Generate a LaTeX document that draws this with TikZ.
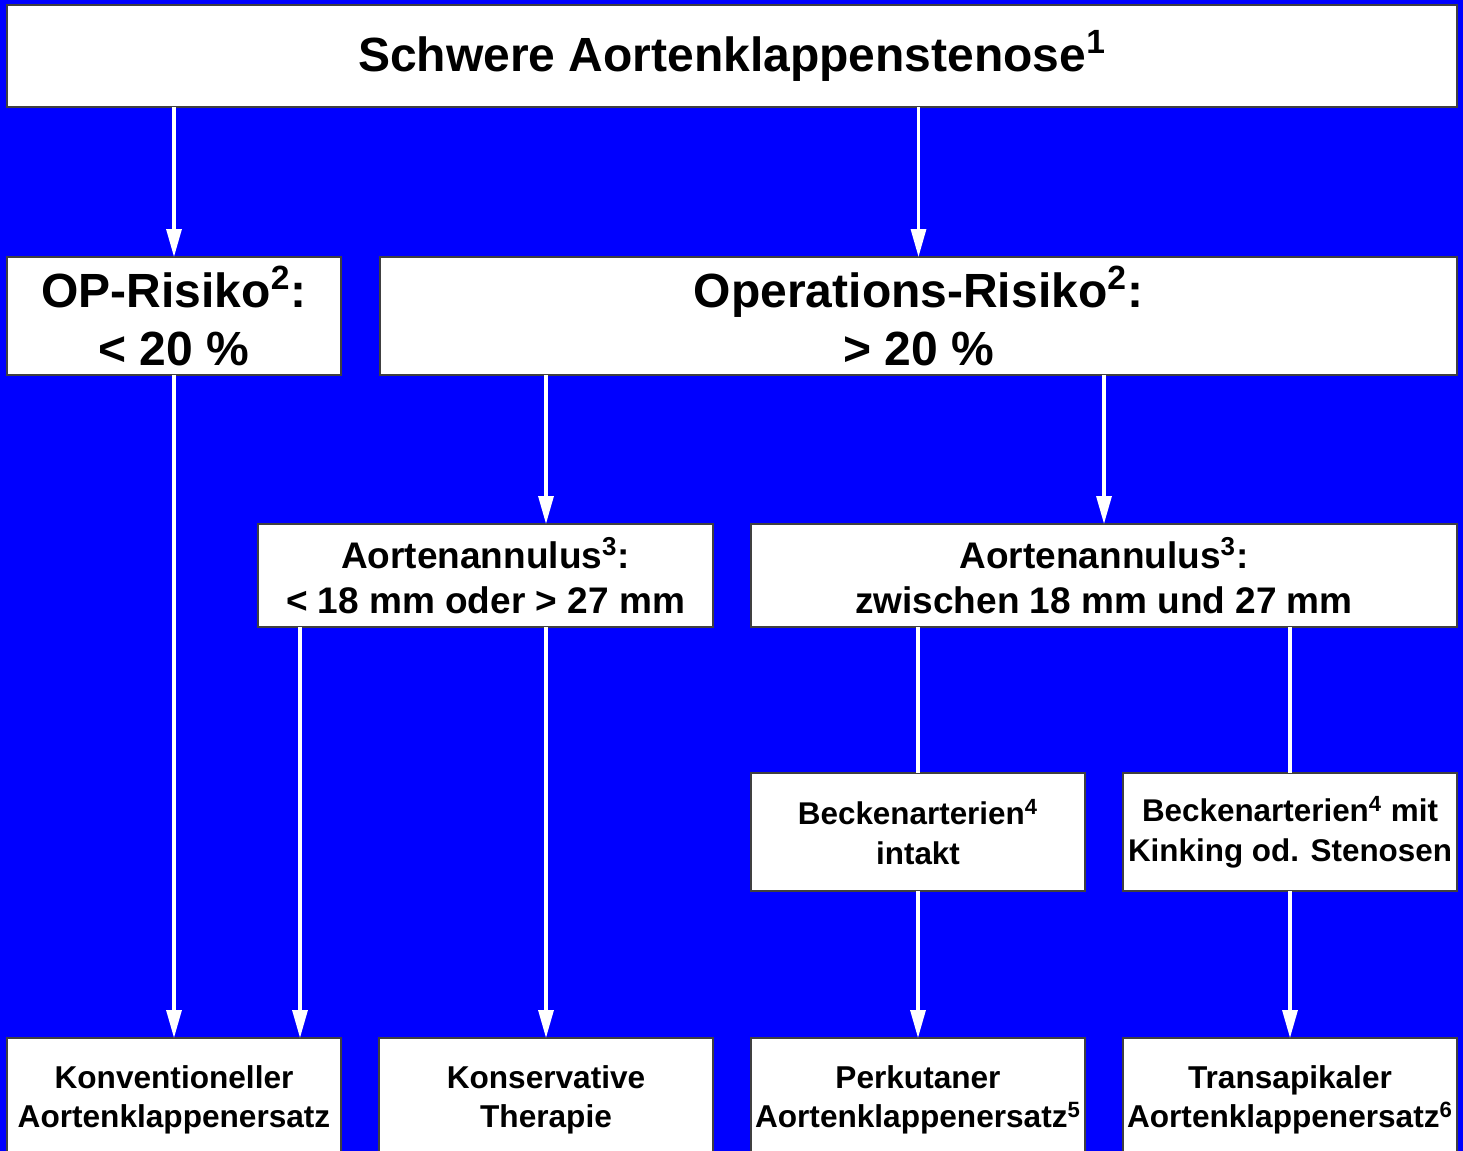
\documentclass[tikz,border=0pt]{standalone}
\usepackage{fontspec}
\setmainfont{Liberation Sans}
\usetikzlibrary{arrows.meta,positioning}
\definecolor{bgblue}{RGB}{0,0,255}

\begin{document}
\begin{tikzpicture}[
      x=.5pt,y=-.5pt,
      flow/.style={-{Triangle[length=14pt,width=7.5pt]},draw=white,fill=white,line width=1.6pt},
      link/.style={draw=white,line width=1.6pt},
      box/.style={draw=black!75,fill=white,line width=.8pt,inner sep=0pt,outer sep=0pt,
        align=center},
      head/.style={box,font=\bfseries\fontsize{24}{29}\selectfont},
      risk/.style={box,font=\bfseries\fontsize{24}{29}\selectfont,minimum height=59pt},
      annul/.style={box,font=\bfseries\fontsize{18.5}{22.5}\selectfont,minimum height=51.5pt},
      pelvis/.style={box,font=\bfseries\fontsize{15.7}{20}\selectfont,minimum width=167pt,minimum height=59pt},
      therapy/.style={box,font=\bfseries\fontsize{15.8}{19.5}\selectfont,minimum width=167pt,minimum height=62pt}]
    \useasboundingbox (0,0) rectangle (1463,1151);
    \fill[bgblue] (0,0) rectangle (1463,1151);

    \node[head,minimum width=725pt,minimum height=51pt] (s0) at (732,56) {Schwere Aortenklappenstenose\textsuperscript{1}};
    \node[risk,minimum width=167pt]   (r1) at (174,316)   {OP-Risiko\textsuperscript{2}:\\< 20 \%};
    \node[risk,minimum width=538.5pt] (r2) at (918.5,316) {Operations-Risiko\textsuperscript{2}:\\> 20 \%};
    \node[annul,minimum width=227.5pt] (a1) at (485.5,575.5) {Aortenannulus\textsuperscript{3}:\\< 18 mm oder > 27 mm};
    \node[annul,minimum width=353pt]   (a2) at (1104,575.5)  {Aortenannulus\textsuperscript{3}:\\zwischen 18 mm und 27 mm};
    \node[pelvis] (b1) at (918,832)  {Beckenarterien\textsuperscript{4}\\intakt};
    \node[pelvis] (b2) at (1290,832) {Beckenarterien\textsuperscript{4} mit\\Kinking od. Stenosen};
    \node[therapy] (t1) at (174,1100)  {Konventioneller\\Aortenklappenersatz};
    \node[therapy] (t2) at (546,1100)  {Konservative\\Therapie};
    \node[therapy] (t3) at (918,1100)  {Perkutaner\\Aortenklappenersatz\textsuperscript{5}};
    \node[therapy] (t4) at (1290,1100) {Transapikaler\\Aortenklappenersatz\textsuperscript{6}};

    \coordinate (a1l) at ([xshift=21pt]a1.south west);

    \draw[flow] (s0.south -| r1) -- (r1);
    \draw[flow] (s0.south -| r2) -- (r2);
    \draw[flow] (r1) -- (t1);
    \draw[flow] (r2.south -| t2) -- (a1.north -| t2);
    \draw[flow] (r2.south -| a2) -- (a2);
    \draw[flow] (a1l) -- (a1l |- t1.north);
    \draw[flow] (a1.south -| t2) -- (t2);
    \draw[link] (a2.south -| b1) -- (b1);
    \draw[link] (a2.south -| b2) -- (b2);
    \draw[flow] (b1) -- (t3);
    \draw[flow] (b2) -- (t4);
  \end{tikzpicture}
\end{document}
